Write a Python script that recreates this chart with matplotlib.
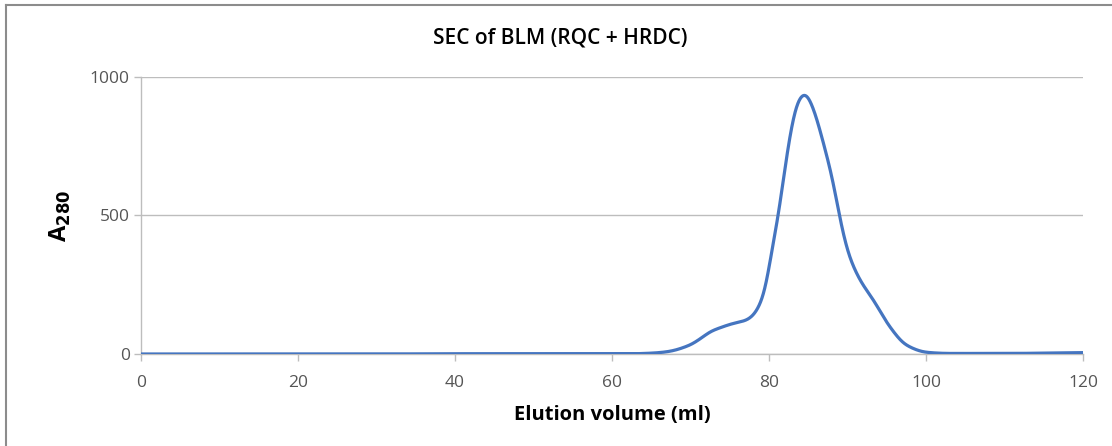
import numpy as np
import matplotlib.pyplot as plt
from matplotlib.lines import Line2D

plt.rcParams["font.family"] = ["Open Sans", "DejaVu Sans"]

# elution volume (ml) and absorbance
volume = [0, 10, 20, 30, 40, 50, 55, 60, 62.7, 65, 67.0, 69.9, 71.5, 72.5, 74.1, 75.4,
          76.5, 77.2, 78.0, 78.5, 79.5, 80.3, 81.2, 82.0, 82.9, 83.7, 84.6, 85.6, 86.9,
          88.2, 89.0, 90.1, 91.6, 93.3, 95.4, 97.5, 100.1, 103, 110, 120]
a280 = [0, 0, 0, 0, 1, 1, 1, 1, 1, 3, 8, 32, 60, 80, 98, 110,
        117, 123, 140, 159, 231, 364, 502, 664, 825, 915, 942, 890, 765,
        617, 495, 364, 267, 195, 98, 32, 6, 2, 2, 5]

title = "SEC of BLM (RQC + HRDC)"
xticks = [0, 20, 40, 60, 80, 100, 120]
yticks = [0, 500, 1000]


def pchip(x, y, xs):
    # monotone cubic interpolation so the trace stays smooth like the original
    x = np.asarray(x, float)
    y = np.asarray(y, float)
    h = np.diff(x)
    d = np.diff(y) / h
    m = np.zeros_like(y)
    for i in range(1, len(x) - 1):
        if d[i - 1] * d[i] > 0:
            w1 = 2 * h[i] + h[i - 1]
            w2 = h[i] + 2 * h[i - 1]
            m[i] = (w1 + w2) / (w1 / d[i - 1] + w2 / d[i])
    m[0] = d[0]
    m[-1] = d[-1]
    idx = np.clip(np.searchsorted(x, xs) - 1, 0, len(h) - 1)
    t = (xs - x[idx]) / h[idx]
    h00 = 2 * t**3 - 3 * t**2 + 1
    h10 = t**3 - 2 * t**2 + t
    h01 = -2 * t**3 + 3 * t**2
    h11 = t**3 - t**2
    return h00 * y[idx] + h10 * h[idx] * m[idx] + h01 * y[idx + 1] + h11 * h[idx] * m[idx + 1]


fig = plt.figure(figsize=(11.12, 4.46), dpi=100)
ax = fig.add_axes([0.1268, 0.2063, 0.8471, 0.6211])

xs = np.linspace(0, 120, 4801)
ys = pchip(volume, a280, xs)
# light gaussian smoothing to take the corners out of the interpolation
step = xs[1] - xs[0]
kx = np.arange(-40, 41) * step
kern = np.exp(-0.5 * (kx / 0.45) ** 2)
kern /= kern.sum()
ys = np.convolve(np.pad(ys, 40, mode="edge"), kern, mode="valid")
ax.plot(xs, ys, color="#4575C0", linewidth=2.3, solid_capstyle="round", zorder=3)

ax.set_xlim(0, 120)
ax.set_ylim(0, 1000)
ax.set_xticks(xticks)
ax.set_yticks(yticks)
ax.yaxis.grid(True, color="#BDBDBD", linewidth=1.0)
ax.set_axisbelow(True)
for s in ["top", "right"]:
    ax.spines[s].set_visible(False)
for s in ["left", "bottom"]:
    ax.spines[s].set_color("#BDBDBD")
    ax.spines[s].set_linewidth(1.0)
ax.tick_params(axis="both", colors="#BDBDBD", labelcolor="#555555",
               labelsize=12.5, length=5, width=1.0)
ax.tick_params(axis="x", pad=10)
ax.tick_params(axis="y", pad=3)

ax.set_xlabel("Elution volume (ml)", fontsize=14.5, fontweight="bold", labelpad=10)
ax.set_ylabel(r"A$_{\mathbf{280}}$", fontsize=17, fontweight="bold", labelpad=12)
fig.text(0.504, 0.915, title, ha="center", va="center", fontsize=15,
         fontweight="semibold")

# outer chart frame (top and left edges visible)
fig.add_artist(Line2D([0.0055, 1.0], [0.9885, 0.9885], color="#8C8C8C",
                      linewidth=1.5, transform=fig.transFigure))
fig.add_artist(Line2D([0.0055, 0.0055], [0.0, 0.9885], color="#8C8C8C",
                      linewidth=1.5, transform=fig.transFigure))

fig.savefig("out.png", dpi=100)
